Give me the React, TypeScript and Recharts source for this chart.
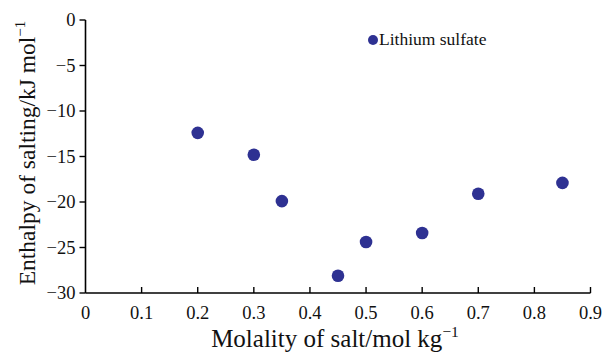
import { ScatterChart, Scatter, XAxis, YAxis, Legend, Label } from "recharts";

const molality = [0.2, 0.3, 0.35, 0.45, 0.5, 0.6, 0.7, 0.85];
const enthalpy = [-12.4, -14.8, -19.9, -28.1, -24.4, -23.4, -19.1, -17.9];
const xTicks = [0, 0.1, 0.2, 0.3, 0.4, 0.5, 0.6, 0.7, 0.8, 0.9];
const yTicks = [0, -5, -10, -15, -20, -25, -30];
const seriesName = "Lithium sulfate";

const data = molality.map((m, i) => ({ m, h: enthalpy[i] }));

const FONT = '"Times New Roman", "Liberation Serif", Times, serif';
const DOT = "#2E3192";
const txt = { fontFamily: FONT };

function XTick(props: any) {
  const { x, y, payload } = props;
  return (
    <g>
      {payload.value !== 0 && <line x1={x} x2={x} y1={y} y2={y - 6} stroke="#000" strokeWidth={1.4} />}
      <text x={x} y={y + 26} textAnchor="middle" style={txt} fontSize={18.5} fill="#111">
        {String(payload.value)}
      </text>
    </g>
  );
}

function YTick(props: any) {
  const { x, y, payload } = props;
  const v = payload.value as number;
  return (
    <text x={x} y={y + 6} textAnchor="end" style={txt} fontSize={18.5} fill="#111">
      {v < 0 ? `\u2212${Math.abs(v)}` : String(v)}
    </text>
  );
}

function XTitle(props: any) {
  const { viewBox } = props;
  const cx = viewBox.x + viewBox.width / 2 - 3;
  return (
    <text x={cx} y={viewBox.y + 54} textAnchor="middle" style={txt} fontSize={25} fill="#111">
      Molality of salt/mol kg
      <tspan dy={-10} fontSize={15.5}>−1</tspan>
    </text>
  );
}

function YTitle() {
  const cy = 153;
  const cx = 35;
  return (
    <text
      x={cx}
      y={cy}
      transform={`rotate(-90 ${cx} ${cy})`}
      textAnchor="middle"
      style={txt}
      fontSize={23.5}
      fill="#111"
    >
      Enthalpy of salting/kJ mol
      <tspan dy={-10} fontSize={15}>−1</tspan>
    </text>
  );
}

function LegendBox() {
  return (
    <div style={{ display: "flex", alignItems: "center", fontFamily: FONT, fontSize: 17.5, color: "#111" }}>
      <span
        style={{ width: 10, height: 10, borderRadius: "50%", background: DOT, display: "inline-block", marginRight: 1 }}
      />
      {seriesName}
    </div>
  );
}

export default function App() {
  return (
    <div style={{ position: "fixed", left: 0, top: 0, width: 605, height: 352, background: "#fff" }}>
      <ScatterChart width={605} height={352} margin={{ top: 20, right: 14.5, bottom: 0, left: 0 }}>
        <XAxis
          type="number"
          dataKey="m"
          domain={[0, 0.9]}
          ticks={xTicks}
          height={59}
          tickSize={0}
          tickMargin={0}
          tickLine={false}
          tick={<XTick />}
          axisLine={{ stroke: "#000", strokeWidth: 1.6 }}
          interval={0}
        >
          <Label content={<XTitle />} />
        </XAxis>
        <YAxis
          type="number"
          dataKey="h"
          domain={[-30, 0]}
          ticks={yTicks}
          width={85.5}
          tickSize={6}
          tickMargin={4}
          tick={<YTick />}
          tickLine={{ stroke: "#000", strokeWidth: 1.4 }}
          axisLine={{ stroke: "#000", strokeWidth: 1.6 }}
          interval={0}
        >
          <Label content={<YTitle />} />
        </YAxis>
        <Legend
          layout="vertical"
          align="center"
          verticalAlign="middle"
          content={<LegendBox />}
          wrapperStyle={{ position: "absolute", left: 368, top: 29, width: 200 }}
        />
        <Scatter
          name={seriesName}
          data={data}
          fill={DOT}
          isAnimationActive={false}
          shape={(p: any) => <circle cx={p.cx} cy={p.cy} r={6.3} fill={DOT} />}
        />
      </ScatterChart>
    </div>
  );
}
